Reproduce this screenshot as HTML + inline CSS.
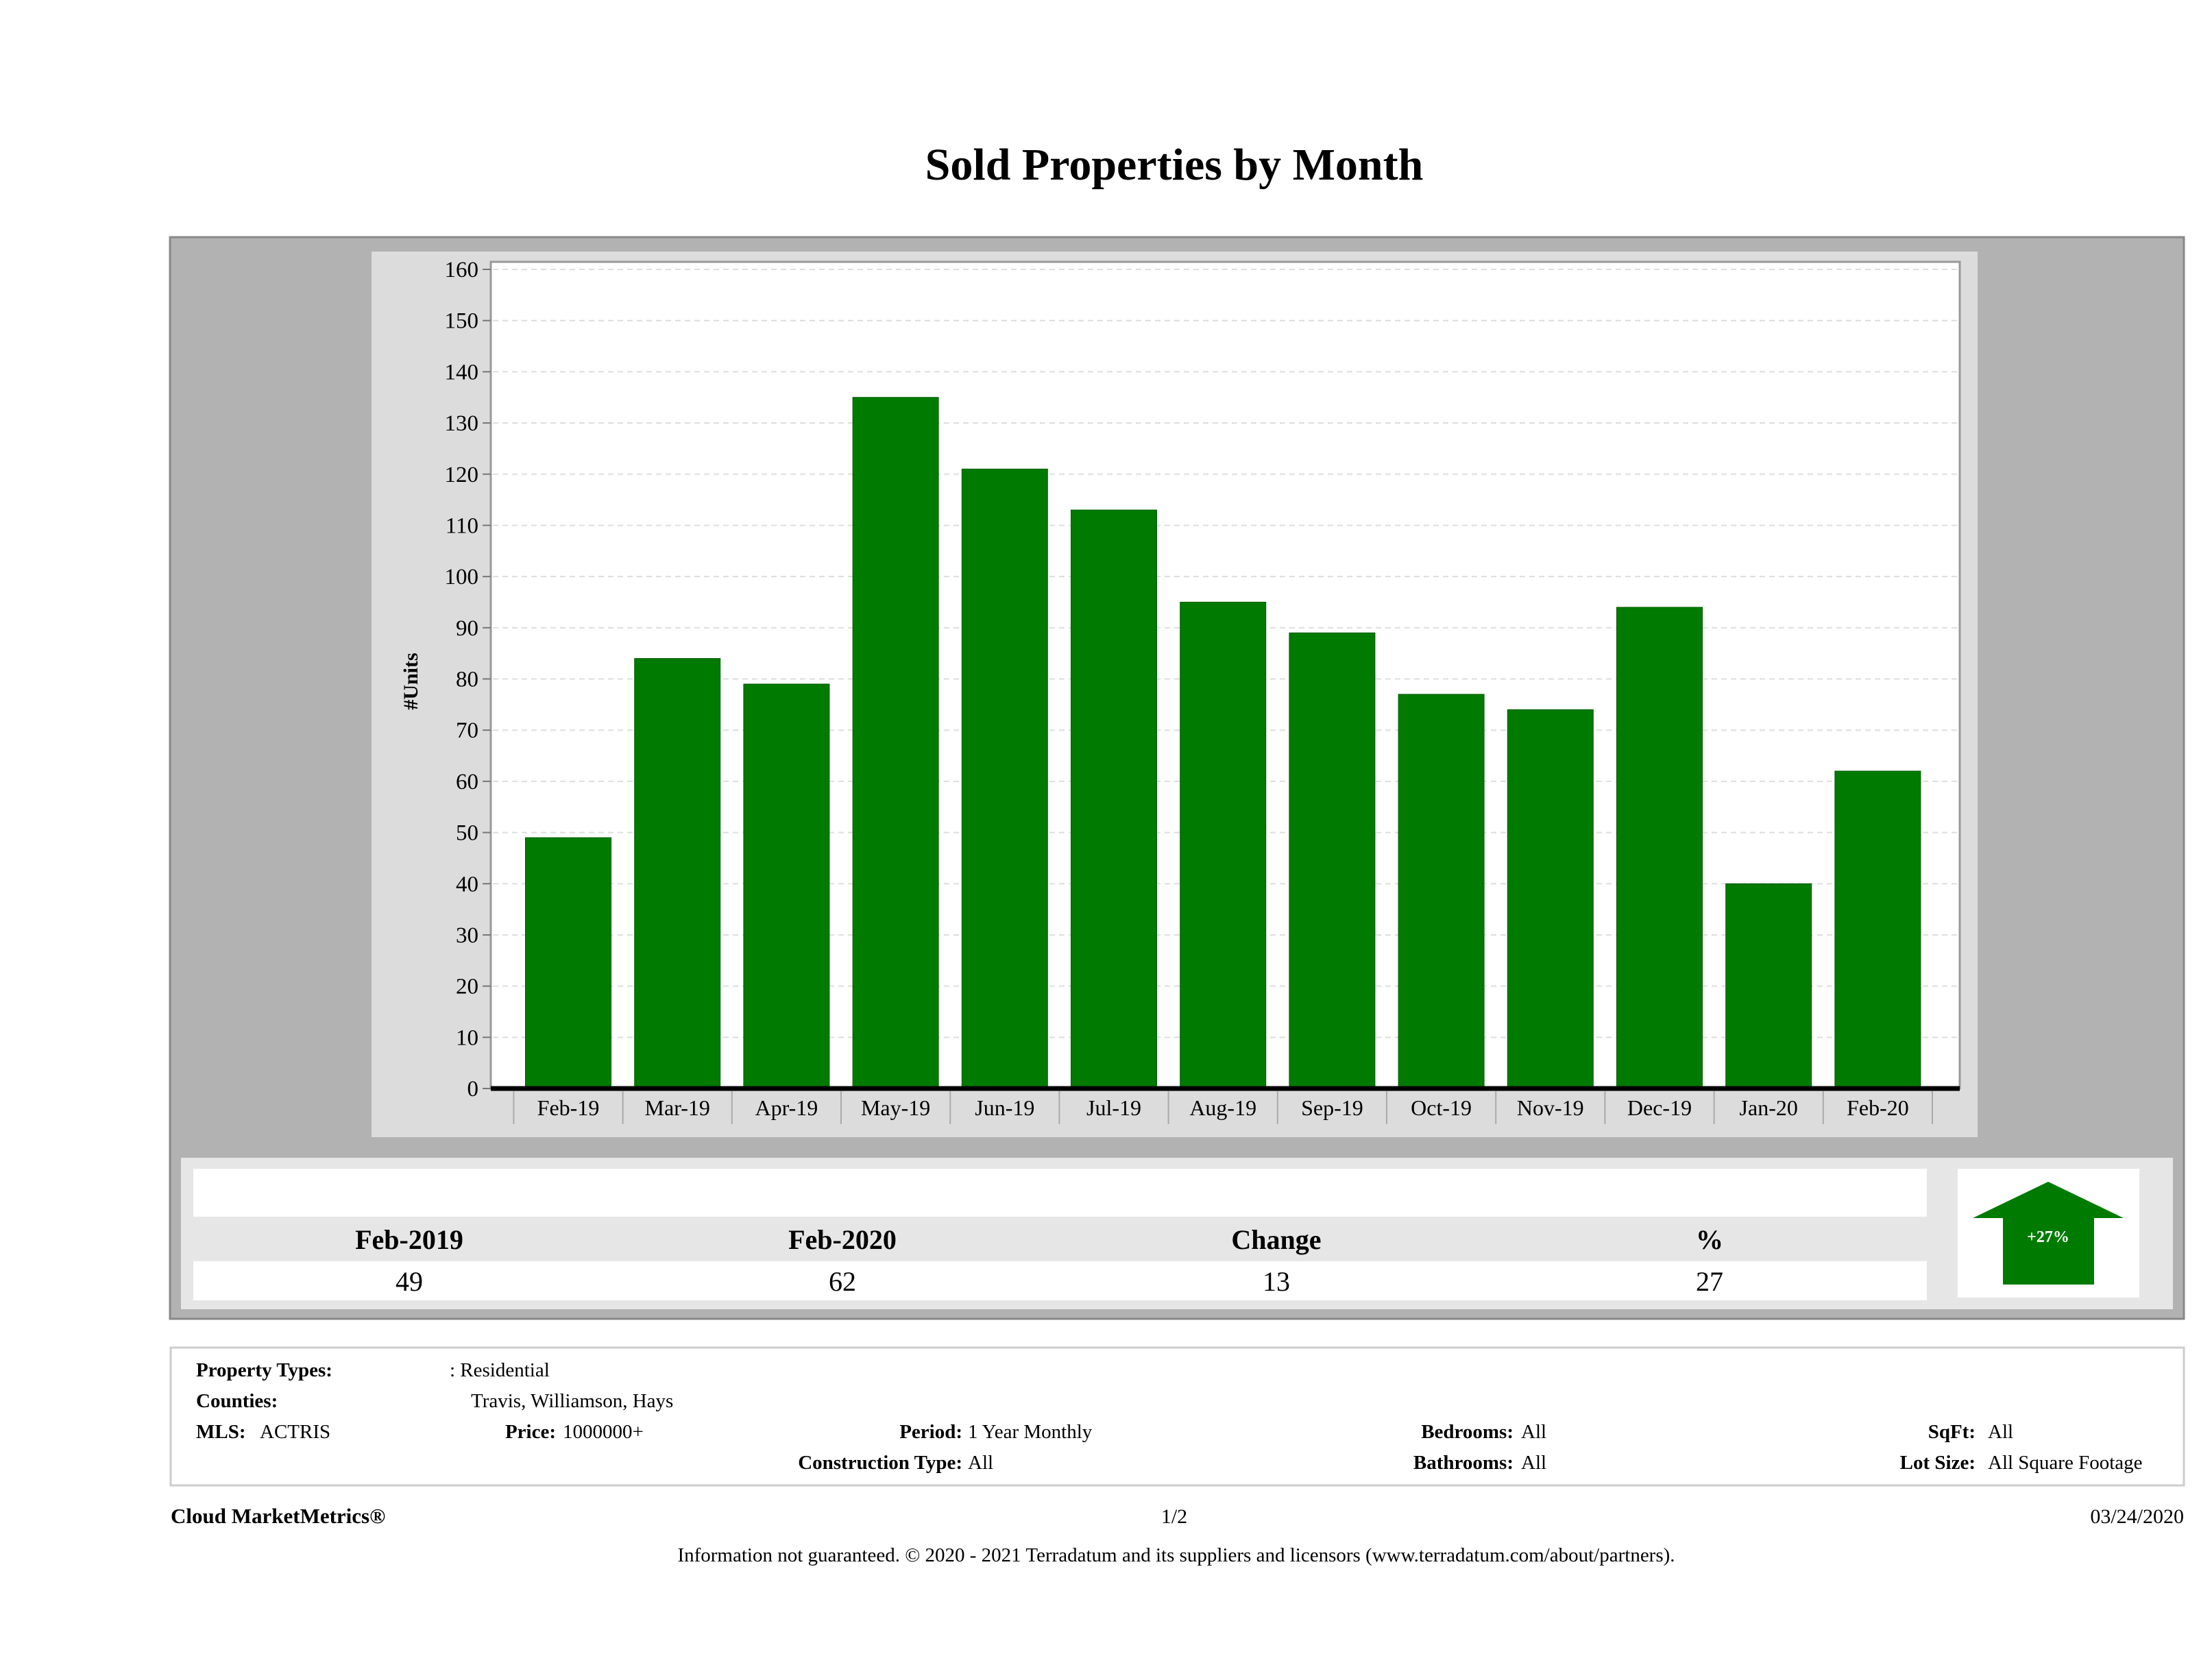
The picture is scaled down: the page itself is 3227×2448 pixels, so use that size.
<!DOCTYPE html>
<html><head><meta charset="utf-8"><style>
html,body{margin:0;padding:0;background:#fff;}
svg{display:block;font-family:"Liberation Serif",serif;}
</style></head><body>
<svg id="chart" width="3227" height="2448" viewBox="0 0 3227 2448" xmlns="http://www.w3.org/2000/svg">
<text x="1713" y="262" text-anchor="middle" font-size="66" font-weight="bold">Sold Properties by Month</text>
<rect x="248" y="346" width="2938" height="1578" fill="#b2b2b2" stroke="#888" stroke-width="3"/>
<rect x="542" y="367" width="2343" height="1292" fill="#dcdcdc"/>
<rect x="716" y="382" width="2143" height="1206" fill="#fff" stroke="#999" stroke-width="3"/>
<g id="grid"></g><g id="bars"></g><g id="yaxis"></g><g id="xaxis"></g>
<text transform="translate(609,994) rotate(-90)" text-anchor="middle" font-size="30" font-weight="bold">#Units</text>

<rect x="264" y="1689" width="2906" height="221" fill="#e6e6e6"/>
<rect x="282" y="1705" width="2529" height="70" fill="#fff"/>
<rect x="282" y="1840" width="2529" height="57" fill="#fff"/>
<g font-size="40" text-anchor="middle">
<text x="597" y="1822" font-weight="bold">Feb-2019</text>
<text x="1229" y="1822" font-weight="bold">Feb-2020</text>
<text x="1862" y="1822" font-weight="bold">Change</text>
<text x="2494" y="1822" font-weight="bold">%</text>
<text x="597" y="1883">49</text>
<text x="1229" y="1883">62</text>
<text x="1862" y="1883">13</text>
<text x="2494" y="1883">27</text>
</g>
<rect x="2856" y="1705" width="265" height="188" fill="#fff"/>
<polygon points="2988,1724 3098,1777 3055,1777 3055,1874 2922,1874 2922,1777 2878,1777" fill="#007a00"/>
<text x="2988" y="1812" text-anchor="middle" font-size="24" font-weight="bold" fill="#fff">+27%</text>

<rect x="249" y="1966" width="2937" height="201" fill="#fff" stroke="#ccc" stroke-width="3"/>
<g font-size="29">
<text x="286" y="2008" font-weight="bold">Property Types:</text>
<text x="656" y="2008">: Residential</text>
<text x="286" y="2053" font-weight="bold">Counties:</text>
<text x="687" y="2053">Travis, Williamson, Hays</text>
<text x="286" y="2098" font-weight="bold">MLS:</text>
<text x="379" y="2098">ACTRIS</text>
<text x="811" y="2098" font-weight="bold" text-anchor="end">Price:</text>
<text x="821" y="2098">1000000+</text>
<text x="1404" y="2098" font-weight="bold" text-anchor="end">Period:</text>
<text x="1412" y="2098">1 Year Monthly</text>
<text x="2208" y="2098" font-weight="bold" text-anchor="end">Bedrooms:</text>
<text x="2219" y="2098">All</text>
<text x="2882" y="2098" font-weight="bold" text-anchor="end">SqFt:</text>
<text x="2900" y="2098">All</text>
<text x="1404" y="2143" font-weight="bold" text-anchor="end">Construction Type:</text>
<text x="1412" y="2143">All</text>
<text x="2208" y="2143" font-weight="bold" text-anchor="end">Bathrooms:</text>
<text x="2219" y="2143">All</text>
<text x="2882" y="2143" font-weight="bold" text-anchor="end">Lot Size:</text>
<text x="2900" y="2143">All Square Footage</text>
</g>
<text x="249" y="2222" font-size="31" font-weight="bold">Cloud MarketMetrics®</text>
<text x="1713" y="2222" font-size="30" text-anchor="middle">1/2</text>
<text x="3186" y="2222" font-size="30" text-anchor="end">03/24/2020</text>
<text x="1716" y="2278" font-size="29" text-anchor="middle">Information not guaranteed. © 2020 - 2021 Terradatum and its suppliers and licensors (www.terradatum.com/about/partners).</text>
</svg>
<script>
const categories = ["Feb-19","Mar-19","Apr-19","May-19","Jun-19","Jul-19","Aug-19","Sep-19","Oct-19","Nov-19","Dec-19","Jan-20","Feb-20"];
const soldUnits = [49,84,79,135,121,113,95,89,77,74,94,40,62];
const yTicks = [0,10,20,30,40,50,60,70,80,90,100,110,120,130,140,150,160];

const NS = "http://www.w3.org/2000/svg";
const y0 = 1588, y160 = 393, yMax = 160;
function yScale(v){ return y0 - (v / yMax) * (y0 - y160); }
const firstCenter = 829, pitch = 159.2, barW = 125;
function xScale(i){ return firstCenter + i * pitch; }
function mk(tag, attrs, parent){ const e=document.createElementNS(NS,tag); for(const k in attrs) e.setAttribute(k,attrs[k]); parent.appendChild(e); return e; }

const grid=document.getElementById('grid'), bars=document.getElementById('bars'), yaxis=document.getElementById('yaxis'), xaxis=document.getElementById('xaxis');
yTicks.forEach(t=>{
  const y=yScale(t);
  if(t>0){ const g=mk('line',{x1:719,x2:2856,y1:y,y2:y,stroke:'#ddd','stroke-width':2,'stroke-dasharray':'8,6'},grid);
    
     }
  const tk=mk('line',{x1:704,x2:716,y1:y,y2:y,stroke:'#777','stroke-width':2},yaxis);
  
  
  const lb=mk('text',{x:698,y:y+11,'text-anchor':'end','font-size':33},yaxis);
  lb.textContent=t;
  
  
});
soldUnits.forEach((v,i)=>{
  const cx=xScale(i), yt=yScale(v);
  const r=mk('rect',{x:cx-barW/2,y:yt,width:barW,height:y0-yt,fill:'#007a00',stroke:'#005c00','stroke-width':1},bars);
  
  
});
const axis=mk('line',{x1:716,x2:2859,y1:y0,y2:y0,stroke:'#000','stroke-width':7},xaxis);


categories.forEach((c,i)=>{
  const cx=xScale(i);
  const sep=mk('line',{x1:cx-pitch/2,x2:cx-pitch/2,y1:y0+4,y2:1640,stroke:'#aaa','stroke-width':2},xaxis);
  
  
  const lb=mk('text',{x:cx,y:1627,'text-anchor':'middle','font-size':32},xaxis);
  lb.textContent=c;
  
  
});
const last=xScale(categories.length-1)+pitch/2;
const sepEnd=mk('line',{x1:last,x2:last,y1:y0+4,y2:1640,stroke:'#aaa','stroke-width':2},xaxis);


</script>
</body></html>
